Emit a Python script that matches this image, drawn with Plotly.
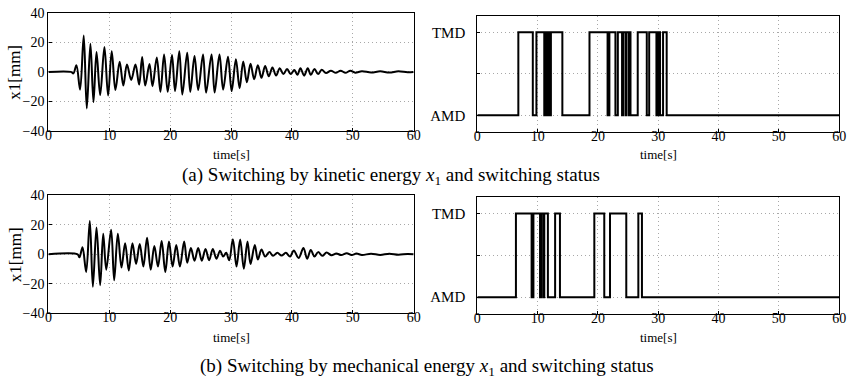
import plotly.graph_objects as go

# ---------------- data ----------------
# (a) kinetic-energy switching: x1 response extrema (time [s], x1 [mm])
t_a = [0, 3.7, 4.1, 4.6, 5.2, 5.8, 6.3, 6.9, 7.4, 7.9, 8.5, 9.2, 9.8, 10.4, 11.0, 11.7, 12.3, 12.9, 13.6, 14.3,
       14.9, 15.4, 15.9, 16.6, 17.1, 17.8, 18.4, 19.0, 19.6, 20.3, 20.8, 21.5, 22.0, 22.8, 23.3, 24.0, 24.6, 25.4,
       25.9, 26.8, 27.3, 28.1, 28.7, 29.5, 30.1, 30.8, 31.4, 32.0, 32.6, 33.2, 33.8, 34.4, 35.0, 35.6, 36.2, 36.8,
       37.4, 38.0, 38.6, 39.2, 39.8, 40.4, 40.9, 41.4, 42.0, 42.6, 43.1, 43.7, 44.3, 44.9, 45.6, 46.4, 47.2, 48.0,
       48.8, 49.6, 50.4, 51.5, 53.0, 54.5, 56.0, 57.5, 59.0, 60]
x1_a = [0, 0, -1, 4.5, -12, 24.7, -24.7, 19, -20.4, 13.5, -15.7, 16.8, -16, 14, -12.3, 6.9, -9.2, 5, -5.4, 5,
        -8.6, 10, -9.2, 5.4, -9.7, 9.7, -13.5, 11.8, -13.5, 11.4, -13, 14, -15.3, 13, -13.5, 10.8, -12.3, 11.8,
        -14, 11.8, -14, 11.8, -12, 10.3, -13, 8.6, -11, 7, -7, 5.5, -5, 4.5, -4, 4, -3, 3,
        -2.5, 2.5, -1.5, 2, -1.5, 1.2, -2, 2.5, -2.5, 2.5, -2, 2, -1.5, 1.5, -0.8, 0.8, -0.6, 0.8,
        -0.6, 0.8, -0.5, 0.5, -0.4, 0.4, -0.4, 0.4, -0.3, 0]

# (b) mechanical-energy switching: x1 response extrema
t_b = [0, 4.8, 5.1, 5.6, 6.2, 6.8, 7.3, 7.9, 8.5, 9.0, 9.5, 10.3, 10.8, 11.4, 12.0, 12.6, 13.2, 13.8, 14.4, 15.0,
       15.6, 16.2, 16.8, 17.4, 18.0, 18.6, 19.2, 19.8, 20.4, 21.0, 21.6, 22.3, 22.8, 23.4, 24.0, 24.6, 25.2, 25.8,
       26.4, 27.0, 27.6, 28.2, 28.7, 29.2, 29.7, 30.3, 30.9, 31.5, 32.1, 32.7, 33.2, 33.9, 34.4, 35.0, 35.6, 36.3,
       36.9, 37.6, 38.3, 39.0, 39.7, 40.3, 41.1, 41.9, 42.5, 43.1, 43.7, 44.3, 45.0, 45.7, 46.5, 47.3, 48.1, 49.0,
       49.8, 50.6, 51.5, 53.0, 54.5, 56.0, 57.5, 59.0, 60]
x1_b = [0, 0, -2, 4.8, -12, 22.6, -22, 18.3, -21, 14, -10.4, 16.7, -17.6, 14, -9, 7.6, -11, 7.6, -6.5, 7,
        -8.3, 11.3, -10.4, 5.6, -8.3, 9, -12, 8.7, -8.3, 6.3, -8.3, 8.7, -5.7, 4.3, -4.3, 4.3, -4.3, 3.7,
        -4, 3.7, -3, 2.5, -1.5, 1, -4, 10.2, -8.3, 10, -9.8, 8.7, -6.5, 6.3, -3.5, 3.3, -1.5, 1.5,
        -1, 1, -0.8, 1, -1.5, 2.6, -2.5, 4.3, -3, 3, -1.5, 1.5, -1, 1.2, -0.6, 0.6, -0.5, 0.8,
        -0.5, 0.5, -0.4, 0.4, -0.4, 0.4, -0.3, 0.3, 0]

# switching instants (start in AMD, each instant toggles AMD <-> TMD)
switch_a = [6.8, 9.2, 9.8, 11.1, 11.4, 11.5, 11.7, 12.0, 12.2, 14.1, 18.6, 21.6, 21.9, 22.9, 23.3, 24.0, 24.2,
            24.6, 24.7, 25.1, 25.2, 25.4, 26.6, 28.1, 28.5, 29.7, 30.0, 30.3, 30.8, 31.4]
switch_b = [6.4, 9.0, 9.3, 10.4, 10.6, 10.95, 11.1, 11.7, 12.9, 13.7, 19.4, 21.05, 22.0, 24.7, 26.7, 27.3]

x_ticks = [0, 10, 20, 30, 40, 50, 60]
y_ticks_left = [-40, -20, 0, 20, 40]
status_levels = [0, 1]
status_labels = ["AMD", "TMD"]
status_mid_grid = [0.5]

caption_a = "(a) Switching by kinetic energy <i>x</i><sub>1</sub> and switching status"
caption_b = "(b) Switching by mechanical energy <i>x</i><sub>1</sub> and switching status"


def step_series(switches, t_end=60):
    xs, ys = [0], [0]
    state = 0
    for s in switches:
        state = 1 - state
        xs.append(s)
        ys.append(state)
    xs.append(t_end)
    ys.append(state)
    return xs, ys


FONT = "Liberation Serif"
W, H = 856, 389

fig = go.Figure()
line_style = dict(color="black", width=2)

fig.add_trace(go.Scatter(x=t_a, y=x1_a, mode="lines", line=dict(line_style, shape="spline", smoothing=1.0),
                         xaxis="x", yaxis="y", showlegend=False))
sx, sy = step_series(switch_a)
fig.add_trace(go.Scatter(x=sx, y=sy, mode="lines", line=dict(line_style, shape="hv"),
                         xaxis="x2", yaxis="y2", showlegend=False))
fig.add_trace(go.Scatter(x=t_b, y=x1_b, mode="lines", line=dict(line_style, shape="spline", smoothing=1.0),
                         xaxis="x3", yaxis="y3", showlegend=False))
sx, sy = step_series(switch_b)
fig.add_trace(go.Scatter(x=sx, y=sy, mode="lines", line=dict(line_style, shape="hv"),
                         xaxis="x4", yaxis="y4", showlegend=False))


def px_x(p):
    return p / W


def px_y(p):
    return 1 - p / H


GRID = "#a8a8a8"
DASH = "1px,3px"
common = dict(showline=True, linecolor="black", linewidth=1.2, mirror=True, ticks="inside", ticklen=3,
              tickcolor="black", showgrid=True, gridcolor=GRID, griddash=DASH, gridwidth=1,
              zeroline=False, tickfont=dict(family=FONT, size=14, color="black"))

dom_left = [px_x(45), px_x(415)]
dom_right = [px_x(479.5), px_x(846)]
dom_top_l = [px_y(129), px_y(6)]
dom_top_r = [px_y(130), px_y(9)]
dom_bot_l = [px_y(318.5), px_y(196)]
dom_bot_r = [px_y(319.3), px_y(197.3)]

xcommon = dict(common, range=[0, 60], tickvals=x_ticks, ticklabelstandoff=-9)
ycommon_r = dict(common, range=[-0.2, 1.2], tickvals=status_levels, ticktext=status_labels,
                 tickfont=dict(family=FONT, size=15, color="black"), ticklabelstandoff=8,
                 minor=dict(tickvals=status_mid_grid, showgrid=True, gridcolor=GRID, griddash=DASH,
                            ticks="inside", ticklen=3, tickcolor="black"))

fig.update_layout(
    width=W, height=H, margin=dict(l=0, r=0, t=0, b=0),
    paper_bgcolor="white", plot_bgcolor="white",
    font=dict(family=FONT, color="black"),
    xaxis=dict(xcommon, domain=dom_left, anchor="y"),
    yaxis=dict(common, domain=dom_top_l, anchor="x", range=[-40, 40], tickvals=y_ticks_left),
    xaxis2=dict(xcommon, domain=dom_right, anchor="y2"),
    yaxis2=dict(ycommon_r, domain=dom_top_r, anchor="x2"),
    xaxis3=dict(xcommon, domain=dom_left, anchor="y3"),
    yaxis3=dict(common, domain=dom_bot_l, anchor="x3", range=[-40, 40], tickvals=y_ticks_left),
    xaxis4=dict(xcommon, domain=dom_right, anchor="y4"),
    yaxis4=dict(ycommon_r, domain=dom_bot_r, anchor="x4"),
)

ann = []
tfont = dict(family=FONT, size=13, color="black")
for cx, cy in [((45 + 415) / 2, 153), ((479.5 + 846) / 2, 153), ((45 + 415) / 2, 344), ((479.5 + 846) / 2, 344)]:
    ann.append(dict(text="time[s]", x=px_x(cx), y=px_y(cy), xref="paper", yref="paper", showarrow=False,
                    xanchor="center", yanchor="middle", font=tfont))
yfont = dict(family=FONT, size=17, color="black")
for cy in [(6 + 129) / 2, (196 + 318.5) / 2]:
    ann.append(dict(text="x1[mm]", x=px_x(11), y=px_y(cy), xref="paper", yref="paper", showarrow=False,
                    xanchor="center", yanchor="middle", textangle=-90, font=yfont))
cfont = dict(family=FONT, size=19, color="black")
ann.append(dict(text=caption_a, x=px_x(392), y=px_y(176), xref="paper", yref="paper", showarrow=False,
                xanchor="center", yanchor="middle", font=cfont))
ann.append(dict(text=caption_b, x=px_x(428), y=px_y(374), xref="paper", yref="paper", showarrow=False,
                xanchor="center", yanchor="middle", font=cfont))
fig.update_layout(annotations=ann)

fig.write_html("out.html")
